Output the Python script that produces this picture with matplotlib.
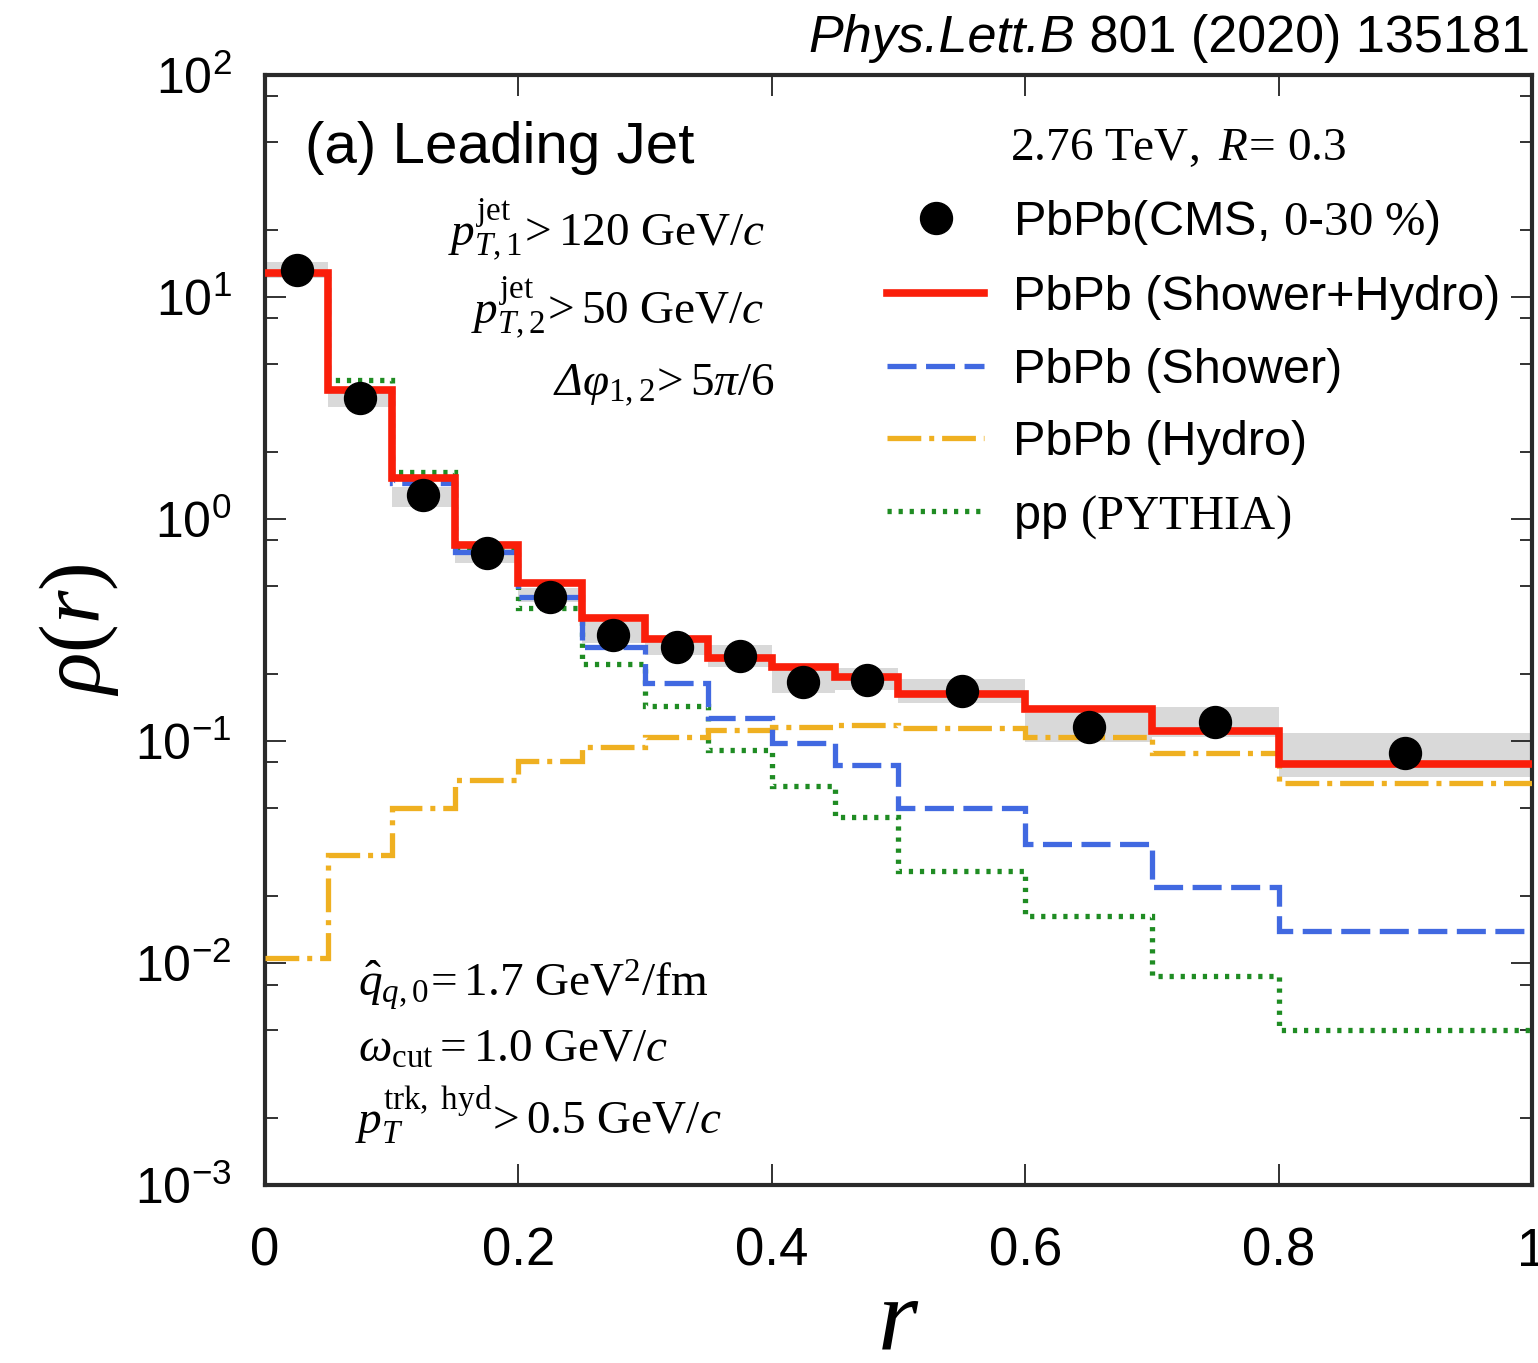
import matplotlib
matplotlib.use("Agg")
import matplotlib.pyplot as plt
from matplotlib.lines import Line2D
from matplotlib.ticker import FixedLocator, FixedFormatter, LogLocator, NullFormatter

plt.rcParams['font.family'] = ['Liberation Sans', 'DejaVu Sans']
plt.rcParams['mathtext.fontset'] = 'custom'
plt.rcParams['mathtext.rm'] = 'Liberation Serif'
plt.rcParams['mathtext.it'] = 'Liberation Serif:italic'
plt.rcParams['mathtext.bf'] = 'Liberation Serif:bold'
plt.rcParams['mathtext.sf'] = 'Liberation Serif:italic'
plt.rcParams['axes.unicode_minus'] = False

# ---- data ----
edges = [0.0, 0.05, 0.10, 0.15, 0.20, 0.25, 0.30, 0.35, 0.40, 0.45, 0.50, 0.60, 0.70, 0.80, 1.00]
r_cms = [0.025, 0.075, 0.125, 0.175, 0.225, 0.275, 0.325, 0.375, 0.425, 0.475, 0.55, 0.65, 0.75, 0.90]
rho_cms = [13.2, 3.51, 1.28, 0.703, 0.445, 0.300, 0.265, 0.241, 0.184, 0.188, 0.168, 0.116, 0.122, 0.088]
cms_sys_lo = [12.2, 3.19, 1.13, 0.633, 0.423, 0.276, 0.244, 0.215, 0.165, 0.170, 0.148, 0.099, 0.104, 0.069]
cms_sys_hi = [14.4, 3.81, 1.39, 0.780, 0.489, 0.344, 0.294, 0.271, 0.213, 0.213, 0.190, 0.134, 0.142, 0.109]
shower_hydro = [12.8, 3.81, 1.53, 0.764, 0.515, 0.358, 0.288, 0.2365, 0.215, 0.194, 0.163, 0.139, 0.111, 0.0788]
shower = [12.8, 3.80, 1.45, 0.71, 0.445, 0.265, 0.1825, 0.127, 0.098, 0.078, 0.0499, 0.0344, 0.022, 0.0139]
hydro = [0.0105, 0.0307, 0.0499, 0.0667, 0.0813, 0.094, 0.104, 0.112, 0.1156, 0.118, 0.115, 0.104, 0.0883, 0.0647]
pp_pythia = [12.8, 4.23, 1.63, 0.74, 0.397, 0.222, 0.144, 0.0911, 0.0627, 0.0455, 0.026, 0.0163, 0.00874, 0.00499]

xticks = [0, 0.2, 0.4, 0.6, 0.8, 1.0]
xtick_labels = ["0", "0.2", "0.4", "0.6", "0.8", "1"]
yticks = [1e-3, 1e-2, 1e-1, 1e0, 1e1, 1e2]
ytick_exponents = ["-3", "-2", "-1", "0", "1", "2"]
ytick_labels = ["$\\mathdefault{10^{" + e + "}}$" for e in ytick_exponents]

c_red = '#fa1e0a'
c_blue = '#4169e1'
c_orange = '#efb021'
c_green = '#1f8c23'
c_band = '#d9d9d9'

fig = plt.figure(figsize=(15.38, 13.63), dpi=100)
ax = fig.add_axes([0.1723, 0.1306, 0.8238, 0.8144])

ax.stairs(cms_sys_hi, edges, baseline=cms_sys_lo, fill=True, color=c_band, zorder=1)

lw_thin = 3.8
ls_blue = (0, (5.5, 1.8))
ls_orange = (0, (6.4, 1.5, 0.95, 1.5))
ls_green = (0, (0.8, 1.3))

ax.stairs(pp_pythia, edges, baseline=None, color=c_green, lw=lw_thin, linestyle=ls_green, zorder=2)
ax.stairs(hydro, edges, baseline=None, color=c_orange, lw=lw_thin, linestyle=ls_orange, zorder=3)
ax.stairs(shower, edges, baseline=None, color=c_blue, lw=lw_thin, linestyle=ls_blue, zorder=4)
ax.stairs(shower_hydro, edges, baseline=None, color=c_red, lw=5.5, zorder=5)
ax.plot(r_cms, rho_cms, 'o', color='black', ms=23, zorder=6, clip_on=False)

ax.set_yscale('log')
ax.set_xlim(0, 1)
ax.set_ylim(1e-3, 1e2)

ax.xaxis.set_major_locator(FixedLocator(xticks))
ax.xaxis.set_major_formatter(FixedFormatter(xtick_labels))
ax.yaxis.set_major_locator(FixedLocator(yticks))
ax.yaxis.set_major_formatter(FixedFormatter(ytick_labels))
ax.yaxis.set_minor_locator(LogLocator(base=10, subs=[2, 5, 8], numticks=20))
ax.yaxis.set_minor_formatter(NullFormatter())

ax.tick_params(axis='both', which='both', direction='in', top=True, right=True, colors='#222')
ax.tick_params(axis='both', which='major', length=15, width=1.3)
ax.tick_params(axis='y', which='minor', length=9, width=1.3)
ax.tick_params(axis='x', which='major', labelsize=38, pad=30, labelcolor='black')
ax.tick_params(axis='y', which='major', labelsize=36, pad=24, labelcolor='black')

for s in ax.spines.values():
    s.set_linewidth(3.0)
    s.set_color('#2a2a2a')

ax.set_xlabel(r'$r$', fontsize=74, va='baseline')
ax.xaxis.set_label_coords(0.5, -0.148)
ax.set_ylabel(r'$\rho(r)$', fontsize=62)
ax.yaxis.set_label_coords(-0.114, 0.5)

# annotations
ax.text(0.0316, 0.934, '(a) Leading Jet', fontsize=42, transform=ax.transAxes, va='center', ha='left')
ax.text(0.588, 0.934, r'$\mathrm{2.76\ TeV},\ R\!=\!\ 0.3$', fontsize=34, transform=ax.transAxes,
        va='center', ha='left')
ax.text(0.3946, 0.860, r'$p_{T,1}^{\mathrm{jet}}\!>\mathrm{120\ GeV}/c$', fontsize=34,
        transform=ax.transAxes, va='center', ha='right')
ax.text(0.3946, 0.790, r'$p_{T,2}^{\mathrm{jet}}\!>\mathrm{50\ GeV}/c$', fontsize=34,
        transform=ax.transAxes, va='center', ha='right')
ax.text(0.4025, 0.7207, '$\\mathsf{\u0394}\\varphi_{\\mathrm{1,2}}\\!>\\mathrm{5}\\pi/\\mathrm{6}$', fontsize=34,
        transform=ax.transAxes, va='center', ha='right')
ax.text(0.0734, 0.180, r'$\hat{q}_{q,0}\!=\mathrm{1.7\ GeV}^{2}/\mathrm{fm}$', fontsize=34,
        transform=ax.transAxes, va='center', ha='left')
ax.text(0.0734, 0.1216, r'$\omega_{\mathrm{cut}}=\mathrm{1.0\ GeV}/c$', fontsize=34,
        transform=ax.transAxes, va='center', ha='left')
ax.text(0.071, 0.063, r'$p_{T}^{\mathrm{trk,\ hyd}}\!>\mathrm{0.5\ GeV}/c$', fontsize=34,
        transform=ax.transAxes, va='center', ha='left')

# citation header: italic journal + upright numbers
t_num = fig.text(0.995, 0.972, ' 801 (2020) 135181', fontsize=37.5, ha='right', va='center')
fig.canvas.draw()
bb = t_num.get_window_extent(renderer=fig.canvas.get_renderer())
fig.text(bb.x0 / fig.bbox.width, 0.972, 'Phys.Lett.B', fontsize=37.5, style='italic', ha='right', va='center')

handles = [
    Line2D([], [], marker='o', color='black', ms=23, ls='none'),
    Line2D([], [], color=c_red, lw=5.5),
    Line2D([], [], color=c_blue, lw=lw_thin, ls=ls_blue),
    Line2D([], [], color=c_orange, lw=lw_thin, ls=ls_orange),
    Line2D([], [], color=c_green, lw=lw_thin, ls=ls_green),
]
labels = [
    r'PbPb(CMS, $\mathrm{0}$-$\mathrm{30\ \%}$)',
    'PbPb (Shower+Hydro)',
    'PbPb (Shower)',
    'PbPb (Hydro)',
    r'pp $\mathrm{(PYTHIA)}$',
]
leg = ax.legend(handles, labels, loc='upper left', bbox_to_anchor=(0.491, 0.889), frameon=False,
                fontsize=35, handlelength=2.0, handletextpad=0.6, labelspacing=0.57,
                borderpad=0, borderaxespad=0)

fig.savefig('out.png', dpi=100)
